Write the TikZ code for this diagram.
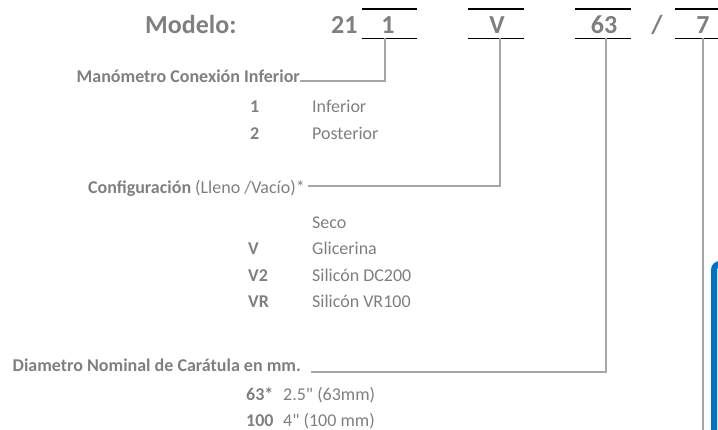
\documentclass[tikz,border=0pt]{standalone}
\usepackage{fontspec}
\setmainfont{Carlito}
\newfontfamily\plainqfont{Carlito}
\definecolor{txtgray}{HTML}{7F7F7F}
\definecolor{linegray}{HTML}{A6A6A6}
\definecolor{edgeblue}{HTML}{0072C6}
\newcommand{\sq}{{\plainqfont\char34}}
\begin{document}
\begin{tikzpicture}[x=1pt,y=-1pt,
  body/.style={inner sep=0pt,anchor=base west,text=txtgray,font=\fontsize{18}{20}\selectfont},
  bodyb/.style={body,font=\fontsize{18}{20}\selectfont\bfseries},
  head/.style={inner sep=0pt,anchor=base,text=txtgray,font=\fontsize{26}{28}\selectfont\bfseries},
  slot/.style={minimum width=55pt,minimum height=29pt,inner sep=0pt,draw=none},
  slotline/.style={draw=black,line width=1.4pt},
  conn/.style={draw=linegray,line width=2.4pt}]
\useasboundingbox (0,0) rectangle (718,429);
% blue edge
\draw[edgeblue,line width=6pt,rounded corners=6pt] (714,445) -- (714,264) -- (760,264);
% header
\node[head,anchor=base west] (modelo) at (145,33) {Modelo:};
\node[head,anchor=base west] (n21) at (331,33) {21};
\node[slot] (b1) at (389.5,23.5) {};
\node[slot] (bV) at (496,23.5) {};
\node[slot] (b63) at (603,23.5) {};
\node[slot] (b7) at (703,23.5) {};
\foreach \b in {b1,bV,b63,b7}{
  \draw[slotline] (\b.north west) -- (\b.north east);
  \draw[slotline] (\b.south west) -- (\b.south east);
}
\node[head] (t1) at (388,33) {1};
\node[head] (tV) at (497,33) {V};
\node[head] (t63) at (604,33) {63};
\node[head] (tsl) at (657,33) {/};
\node[head] (t7) at (703,33) {7};
% section 1
\node[bodyb,anchor=base east] (man) at (300,82) {Manómetro Conexión Inferior};
\node[bodyb] (k1) at (250,112) {1};
\node[body] (d1) at (312,112) {Inferior};
\node[bodyb] (k2) at (250,139) {2};
\node[body] (d2) at (312,139) {Posterior};
% section 2
\node[body,anchor=base east] (conf) at (305,193) {\textbf{Configuración} (Lleno /Vacío)*};
\node[body] (dS) at (312,228) {Seco};
\node[bodyb] (kV) at (248,254) {V};
\node[body] (dV) at (312,254) {Glicerina};
\node[bodyb] (kV2) at (248,281) {V2};
\node[body] (dV2) at (312,281) {Silicón DC200};
\node[bodyb] (kVR) at (248,307) {VR};
\node[body] (dVR) at (312,307) {Silicón VR100};
% section 3
\node[bodyb,anchor=base east] (dia) at (301,371) {Diametro Nominal de Carátula en mm.};
\node[bodyb] (k63) at (246,400) {63*};
\node[body] (d63) at (283,400) {2.5\sq\ (63mm)};
\node[bodyb] (k100) at (246,426) {100};
\node[body] (d100) at (283,426) {4\sq\ (100 mm)};
% connectors
\coordinate (c1) at (385,81);
\coordinate (cV) at (500,186);
\coordinate (c63) at (606,372);
\coordinate (c7) at (703,435);
\draw[conn] (b1.south -| c1) -- (c1) -- (c1 -| man.east);
\draw[conn] (bV.south -| cV) -- (cV) -- ([xshift=3pt]cV -| conf.east);
\draw[conn] (b63.south -| c63) -- (c63) -- ([xshift=10pt]c63 -| dia.east);
\draw[conn] (b7.south -| c7) -- (c7);
\end{tikzpicture}
\end{document}
